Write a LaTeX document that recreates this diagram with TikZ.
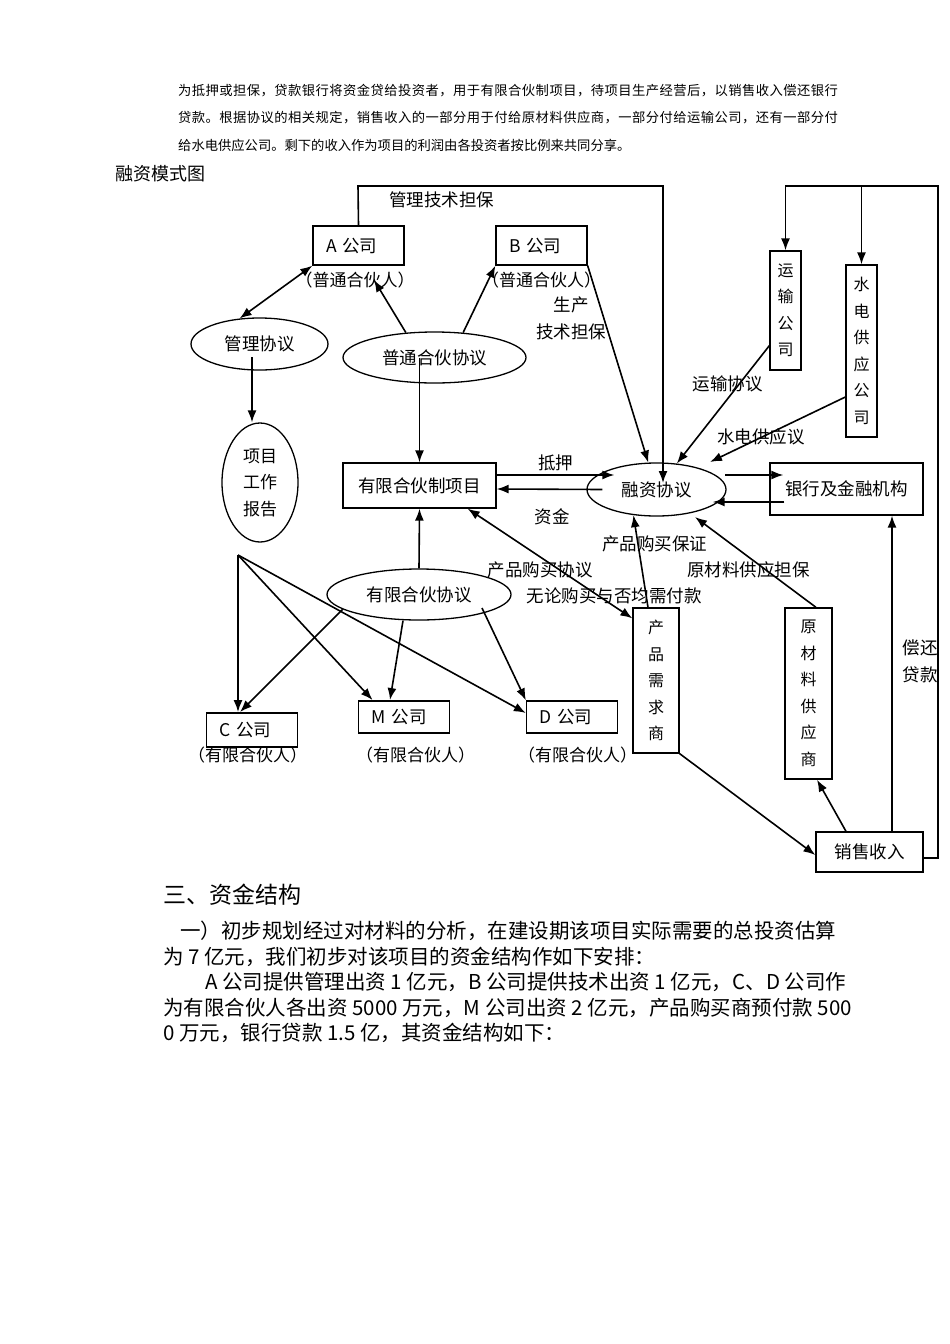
\documentclass[tikz,border=0pt]{standalone}
\usepackage{fontspec}
\setmainfont{Noto Sans CJK SC}
\usetikzlibrary{arrows.meta, positioning, shapes.geometric}

\newcommand{\labfont}{\fontsize{17.5pt}{27pt}\selectfont}
\newcommand{\vfont}{\fontsize{16pt}{26.5pt}\selectfont}

\begin{document}
\begin{tikzpicture}[
    x=1pt, y=-1pt,
    >={Latex[length=12pt,width=9pt]},
    every node/.style={inner sep=0pt},
    firm/.style={draw, line width=1.3pt, text width=65pt, align=left, inner xsep=13pt, font=\labfont},
    deal/.style={draw, ellipse, line width=1.3pt, font=\labfont},
    plainbox/.style={draw, line width=1.3pt, font=\labfont},
    tallbox/.style={draw, line width=1.3pt, minimum width=31pt, align=center, font=\vfont},
    role/.style={font=\fontsize{17pt}{20pt}\selectfont},
    lab/.style={font=\labfont, align=center},
    link/.style={line width=1.6pt},
    intro/.style={anchor=west, font=\fontsize{13.3pt}{16pt}\selectfont},
    body/.style={anchor=west, font=\fontsize{20.5pt}{25pt}\selectfont}
]

\fill[white] (0,0) rectangle (950,1344);
\useasboundingbox (0,0) rectangle (950,1344);

% text above the figure
\node[intro] (intro1) at (178,91) {\addfontfeature{LetterSpace=3.4}为抵押或担保，贷款银行将资金贷给投资者，用于有限合伙制项目，待项目生产经营后，以销售收入偿还银行};
\node[intro] (intro2) at (178,118) {\addfontfeature{LetterSpace=3.4}贷款。根据协议的相关规定，销售收入的一部分用于付给原材料供应商，一部分付给运输公司，还有一部分付};
\node[intro] (intro3) at (178,145) {给水电供应公司。剩下的收入作为项目的利润由各投资者按比例来共同分享。};
\node[anchor=west, font=\fontsize{18pt}{20pt}\selectfont] (figtitle) at (115,174) {融资模式图};

% partners and agreements
\node[firm, minimum height=39pt] (firmA) at (358.5,245.5) {A 公司};
\node[firm, minimum height=39pt] (firmB) at (541.5,245.5) {B 公司};
\node[role, below=6pt of firmA, xshift=-3.5pt] (roleA) {（普通合伙人）};
\node[role, below=6pt of firmB] (roleB) {（普通合伙人）};

\node[deal, minimum width=137pt, minimum height=52pt] (mgmt) at (259.5,344) {管理协议};
\node[deal, minimum width=183pt, minimum height=51pt] (gpdeal) at (434.5,357.5) {普通合伙协议};
\node[deal, minimum width=76pt, minimum height=119pt, align=center, font=\fontsize{17pt}{26.5pt}\selectfont] (report) at (260,482.5) {项目\\工作\\报告};
\node[plainbox, minimum width=153pt, minimum height=45pt] (project) at (419.5,485.5) {有限合伙制项目};
\node[deal, minimum width=139pt, minimum height=53pt] (finance) at (656.5,489.5) {融资协议};
\node[plainbox, minimum width=153pt, minimum height=52pt] (bank) at (846.5,489) {银行及金融机构};
\node[tallbox, minimum height=119pt] (transport) at (785.5,310.5) {运\\输\\公\\司};
\node[tallbox, minimum height=172pt] (utility) at (861.5,351) {水\\电\\供\\应\\公\\司};
\node[deal, minimum width=184pt, minimum height=51pt] (lpdeal) at (419,594.5) {有限合伙协议};
\node[tallbox, minimum width=46pt, minimum height=145pt] (buyer) at (656,680.5) {产\\品\\需\\求\\商};
\node[tallbox, minimum width=47pt, minimum height=171pt] (supplier) at (808.5,693.5) {原\\材\\料\\供\\应\\商};
\node[plainbox, minimum width=107pt, minimum height=40pt] (sales) at (869.5,852) {销售收入};

\node[firm, line width=1.9pt, minimum height=34pt] (firmC) at (252,730) {C 公司};
\node[firm, line width=1.9pt, minimum height=32pt] (firmM) at (404,717) {M 公司};
\node[firm, minimum height=32pt] (firmD) at (572,717) {D 公司};
\node[role, below=-1pt of firmC, xshift=-4.5pt] (roleC) {（有限合伙人）};
\node[role, below=13pt of firmM, xshift=11.5pt] (roleM) {（有限合伙人）};
\node[role, below=13pt of firmD, xshift=5.5pt] (roleD) {（有限合伙人）};

% connector labels
\node[lab] (tGuar) at (441.5,200) {管理技术担保};
\node[lab] (tTech) at (571,318) {生产\\技术担保};
\node[lab] (tTrans) at (727.5,384) {运输协议};
\node[lab] (tPower) at (761,437) {水电供应议};
\node[lab] (tPledge) at (555.5,463) {抵押};
\node[lab] (tFund) at (552,517) {资金};
\node[lab] (tBuyGuar) at (654.5,544) {产品购买保证};
\node[lab] (tSupGuar) at (748.5,570) {原材料供应担保};
\node[lab] (tBuyDeal) at (540,570) {产品购买协议};
\node[lab] (tPayAll) at (614,596) {无论购买与否均需付款};
\node[lab] (tRepay) at (920,661) {偿还\\贷款};

% connectors
\coordinate (guarTop) at (358,186);
\draw[link, ->] (firmA.north) -- (guarTop) -| ([xshift=6.5pt,yshift=6.5pt]finance.center);
\draw[link, <->] (firmA.south west) -- (mgmt.128);
\draw[link, ->] (gpdeal.139) -- ([xshift=19pt]roleA.center);
\draw[link, ->] (gpdeal.41) -- (firmB.south west);
\draw[link, ->] (project.north |- gpdeal.center) -- (project.north);
\draw[link, ->] ([xshift=-7.5pt,yshift=-13pt]mgmt.center) -- ([xshift=-8pt]report.north);

\draw[link, ->] ([yshift=10.5pt]project.east) -- ([xshift=28pt,yshift=14.5pt]finance.west);
\draw[link, ->] ([xshift=16pt]finance.west) -- ([yshift=-3.5pt]project.east);
\draw[link, ->] (firmB.south east) -- (finance.107);
\draw[link, ->] ([xshift=-1.5pt,yshift=14.5pt]finance.east) -- ([xshift=14pt,yshift=14pt]bank.west);
\draw[link, ->] ([xshift=15pt,yshift=-13pt]bank.west) -- ([xshift=-14pt,yshift=-12.5pt]finance.east);
\draw[link, ->] ([yshift=25pt]transport.south west) -- (finance.52);
\draw[link, ->] ([yshift=-46pt]utility.west) -- ([xshift=53.5pt,yshift=27.5pt]finance.center);

\coordinate (frameTop) at (938,186);
\draw[link, ->] ([yshift=-6pt]sales.east) -| (frameTop) -| (transport.north);
\draw[link, ->] (utility.north |- frameTop) -- (utility.north);
\draw[link, ->] ([xshift=22.5pt]sales.north) -- ([xshift=22.5pt]sales.north |- bank.south);
\draw[link, ->] ([xshift=-23.5pt]sales.north) -- ([xshift=8.5pt]supplier.south);
\draw[link, ->] (buyer.south east) -- ([yshift=-3pt]sales.west);
\draw[link, ->] ([xshift=-8pt]buyer.north) -- (finance.228);
\draw[link, ->] ([xshift=7.5pt]supplier.north) -- ([xshift=38.5pt,yshift=-27.5pt]finance.center);
\draw[link, <->] ([xshift=-29pt]project.south east) -- ([yshift=-11pt]buyer.north west);

\draw[link, ->] (lpdeal.north) -- (project.south);
\coordinate (fork) at (238,555);
\draw[link, ->] (fork) -- ([xshift=-14pt]firmC.north);
\draw[link, ->] (fork) -- ([xshift=15pt]firmM.north west);
\draw[link, ->] (fork) -- ([yshift=4pt]firmD.west);
\draw[link, ->] (lpdeal.191) -- ([xshift=-12pt]firmC.north);
\draw[link, ->] ([xshift=-16pt]lpdeal.south) -- ([xshift=-14pt]firmM.north);
\draw[link, ->] ([xshift=63pt,yshift=-13.5pt]lpdeal.center) -- (firmD.north west);

% text below the figure
\node[anchor=west, font=\fontsize{23pt}{26pt}\selectfont] (sechead) at (163,895) {三、资金结构};
\node[body] (body1) at (172,931) {\hspace{8pt}一）初步规划经过对材料的分析，在建设期该项目实际需要的总投资估算};
\node[body] (body2) at (163,957) {为 7 亿元，我们初步对该项目的资金结构作如下安排：};
\node[body] (body3) at (205,982) {A 公司提供管理出资 1 亿元，B 公司提供技术出资 1 亿元，C、D 公司作};
\node[body] (body4) at (163,1008) {为有限合伙人各出资 5000 万元，M 公司出资 2 亿元，产品购买商预付款 500};
\node[body] (body5) at (163,1033) {0 万元，银行贷款 1.5 亿，其资金结构如下：};

\end{tikzpicture}
\end{document}
